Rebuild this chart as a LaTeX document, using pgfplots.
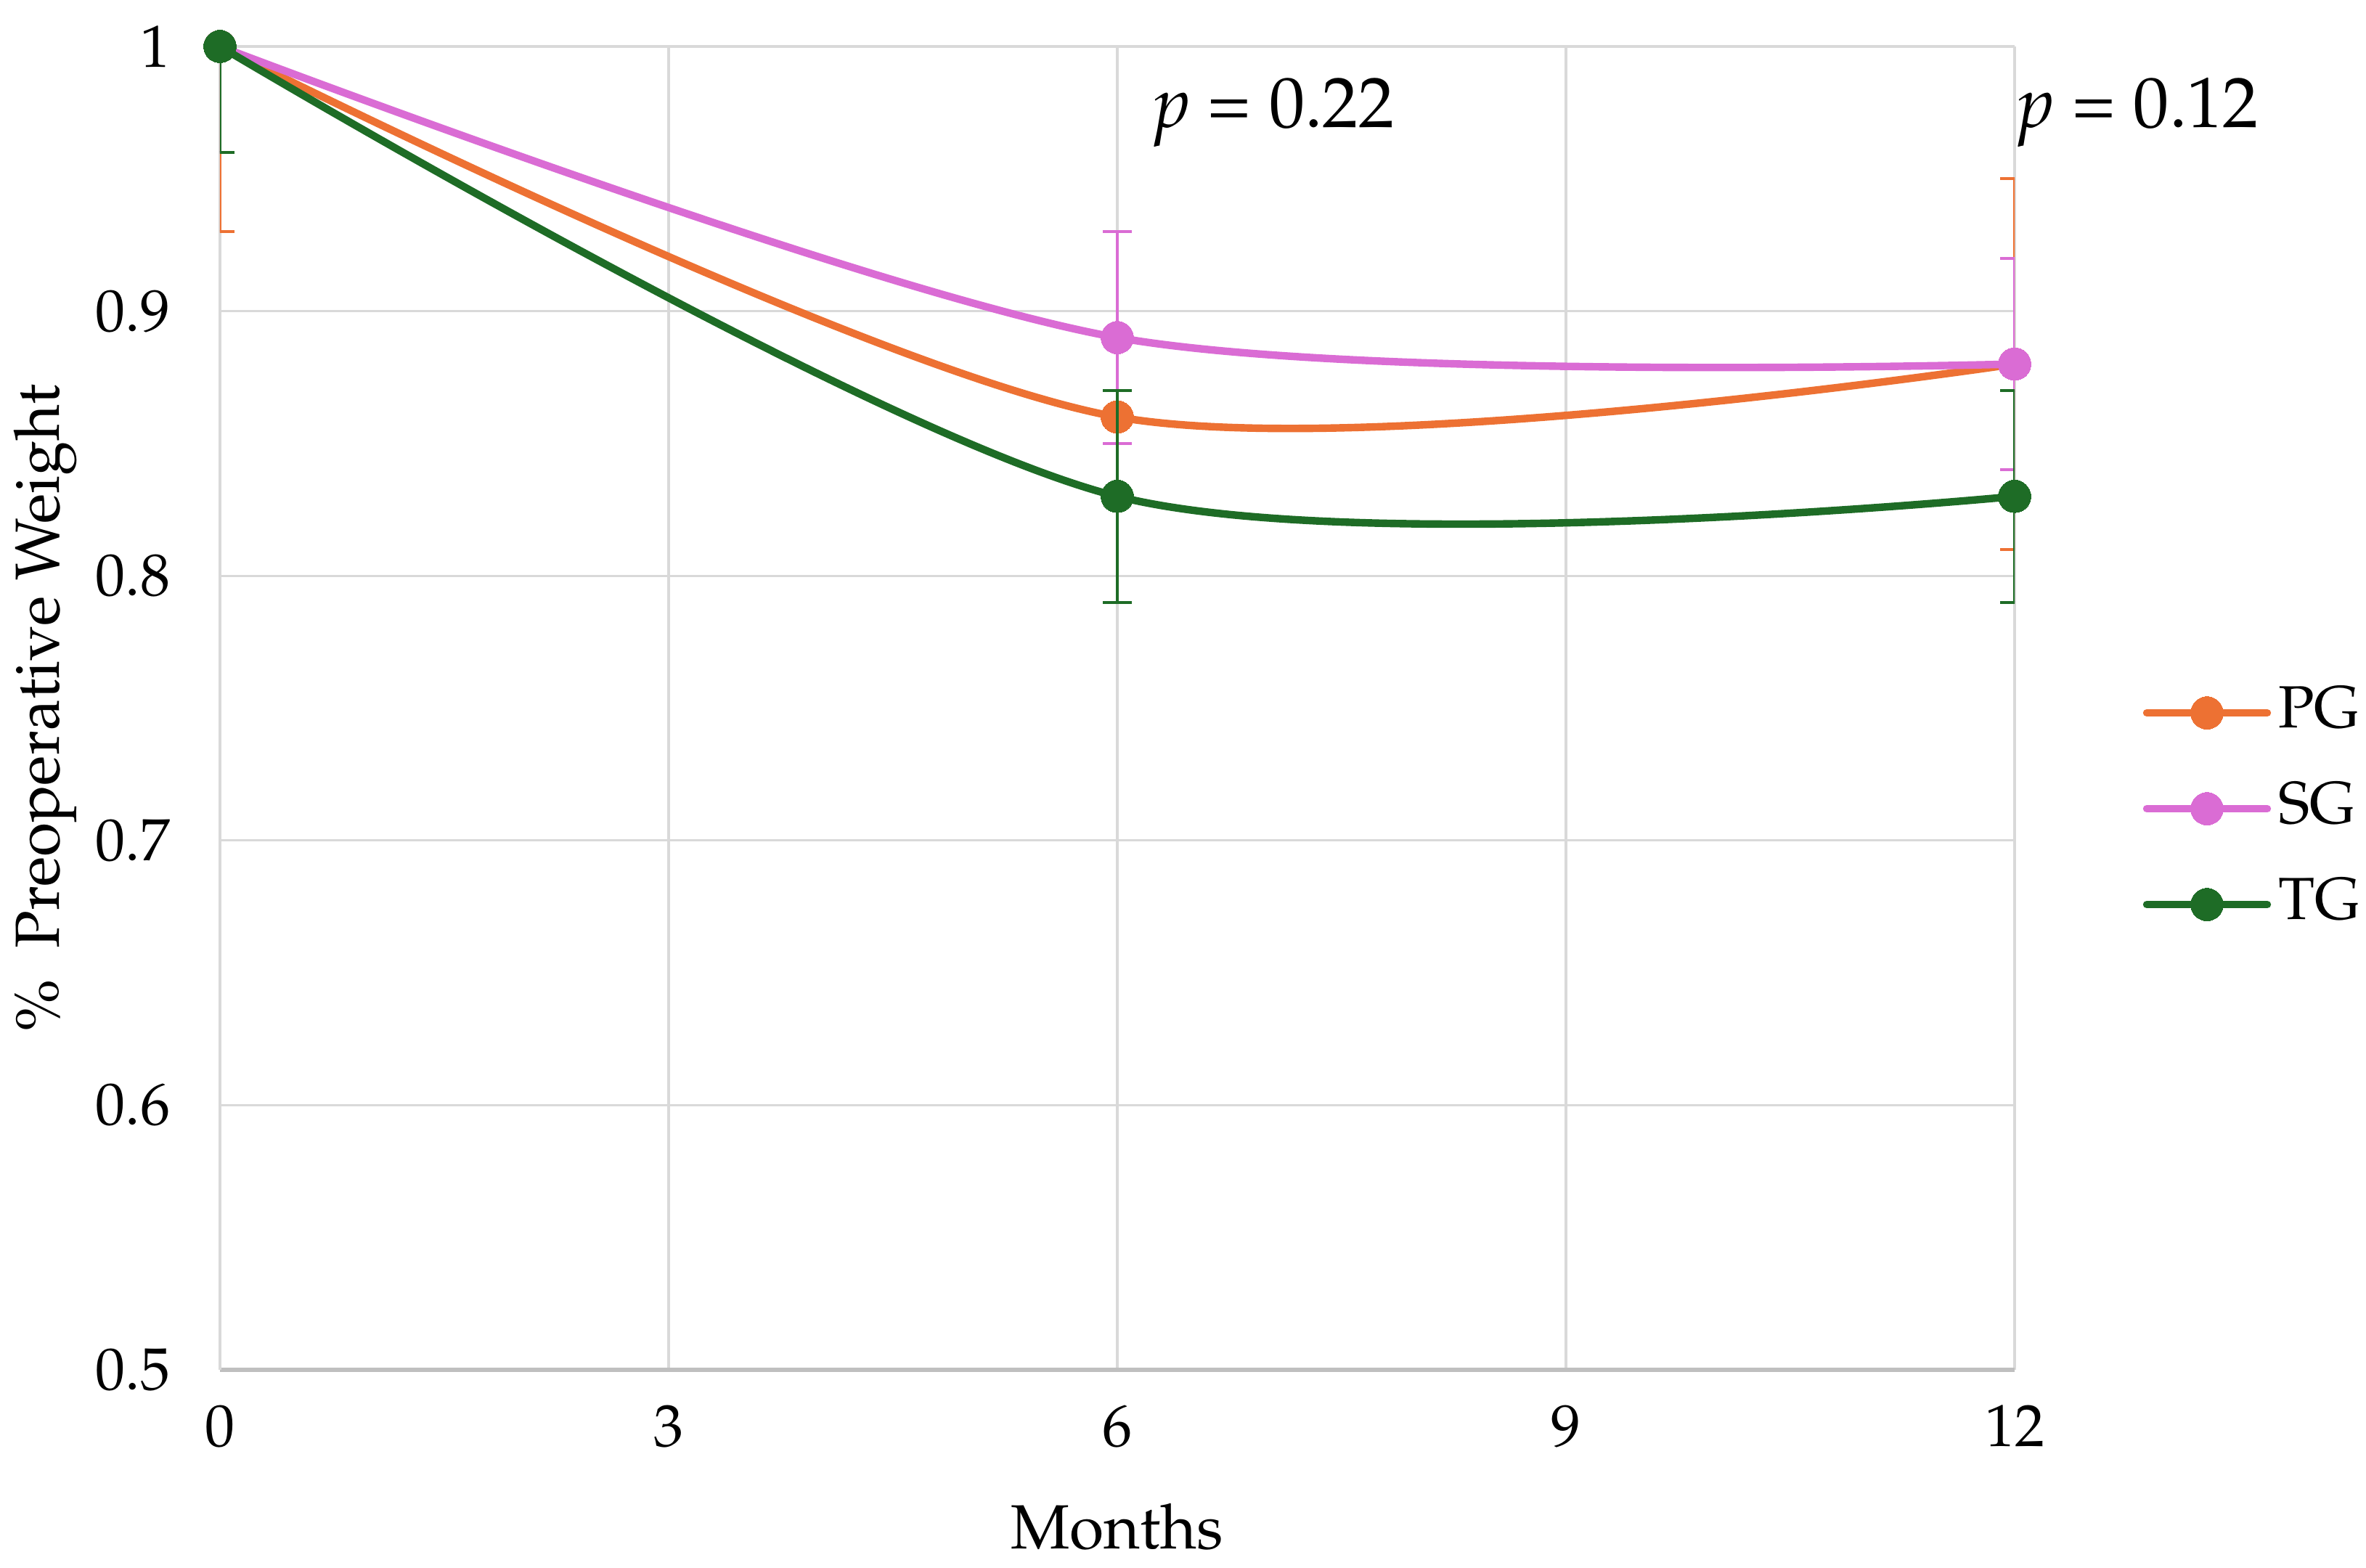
\documentclass[border=0pt]{standalone}
\usepackage[T1]{fontenc}
\usepackage{mathpazo}
\usepackage{pgfplots}
\pgfplotsset{compat=1.18}
\definecolor{pg}{RGB}{237,113,51}
\definecolor{sg}{RGB}{218,108,212}
\definecolor{tg}{RGB}{30,108,38}
\definecolor{gridc}{RGB}{217,217,217}
\definecolor{axc}{RGB}{191,191,191}
\begin{document}
\begin{tikzpicture}
\path[use as bounding box] (-75.75pt,-68.25pt) rectangle (739pt,471.75pt);
\begin{axis}[
  at={(0pt,0pt)}, anchor=south west,
  scale only axis, width=618pt, height=455.75pt,
  xmin=0, xmax=12, ymin=0.5, ymax=1,
  xtick={0,3,6,9,12},
  ytick={0.5,0.6,0.7,0.8,0.9,1},
  yticklabels={0.5,0.6,0.7,0.8,0.9,1},
  /pgf/number format/assume math mode=true,
  axis x line=bottom, axis y line=left,
  x axis line style={-, draw=axc, line width=1.3pt},
  y axis line style={-, draw=gridc, line width=0.8pt},
  major tick length=0pt,
  grid=major, grid style={draw=gridc, line width=0.8pt},
  clip mode=individual,
  ticklabel style={font=\fontsize{20.5}{24}\selectfont},
  yticklabel style={inner sep=0pt, anchor=east, xshift=-17pt},
  xticklabel style={inner sep=0pt, anchor=north, yshift=-12pt},
  every axis x label/.style={at={(axis description cs:0.5,-0.1185)}, anchor=center},
  every axis y label/.style={at={(axis description cs:-0.0971,0.5)}, rotate=90, anchor=center},
  label style={font=\fontsize{21.5}{25}\selectfont},
  xlabel={Months},
  ylabel={\%~ Preoperative Weight},
  legend style={at={(axis description cs:1.0712,0.424)}, anchor=west, draw=none, fill=none,
    inner sep=0pt, font=\fontsize{20.5}{24}\selectfont, row sep=14pt, column sep=2.5pt,
    nodes={inner sep=0pt, text height=14.5pt, text depth=4.5pt}},
  legend cell align=left,
  legend image code/.code={\draw[mark repeat=2,mark phase=2,line cap=round,#1] plot coordinates {(0pt,0pt) (20.75pt,0pt) (41.5pt,0pt)};},
]
\addplot[smooth, color=pg, line width=2.6pt, mark=*, mark size=5.6pt, mark options={solid, fill=pg, draw=pg, line width=0pt},
  error bars/.cd, y dir=both, y explicit,
  error bar style={line width=1pt, pg}, error mark options={rotate=90, line width=1pt, mark size=5pt, pg}]
  table[x=x, y=y, y error=e] {
x y e
0 1.00 0.07
6 0.86 0.00
12 0.88 0.07
};
\addlegendentry{PG}
\addplot[smooth, color=sg, line width=2.6pt, mark=*, mark size=5.6pt, mark options={solid, fill=sg, draw=sg, line width=0pt},
  error bars/.cd, y dir=both, y explicit,
  error bar style={line width=1pt, sg}, error mark options={rotate=90, line width=1pt, mark size=5pt, sg}]
  table[x=x, y=y, y error=e] {
x y e
0 1.00 0.04
6 0.89 0.04
12 0.88 0.04
};
\addlegendentry{SG}
\addplot[smooth, color=tg, line width=2.6pt, mark=*, mark size=5.6pt, mark options={solid, fill=tg, draw=tg, line width=0pt},
  error bars/.cd, y dir=both, y explicit,
  error bar style={line width=1pt, tg}, error mark options={rotate=90, line width=1pt, mark size=5pt, tg}]
  table[x=x, y=y, y error=e] {
x y e
0 1.00 0.04
6 0.83 0.04
12 0.83 0.04
};
\addlegendentry{TG}
\node[font=\fontsize{24.6}{28}\selectfont] at (axis cs:7.05,0.975) {\textit{p} = 0.22};
\node[font=\fontsize{24.6}{28}\selectfont] at (axis cs:12.83,0.975) {\textit{p} = 0.12};
\end{axis}
\end{tikzpicture}
\end{document}
